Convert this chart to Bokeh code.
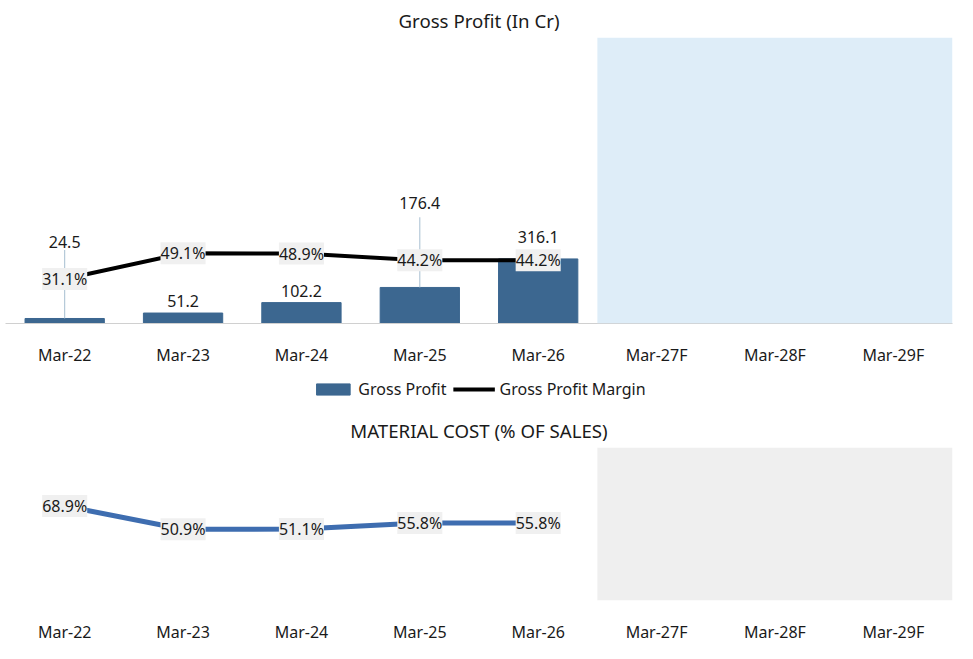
from bokeh.plotting import figure
from bokeh.models import (ColumnDataSource, LabelSet, Range1d, BoxAnnotation,
                          Legend, LegendItem, Segment)
from bokeh.core.properties import value
from bokeh.layouts import column
from bokeh.embed import file_html
from bokeh.resources import INLINE

years = ["Mar-22", "Mar-23", "Mar-24", "Mar-25", "Mar-26", "Mar-27F", "Mar-28F", "Mar-29F"]
known = ["Mar-22", "Mar-23", "Mar-24", "Mar-25", "Mar-26"]
gross_profit = [24.5, 51.2, 102.2, 176.4, 316.1]
gp_margin = [31.1, 49.1, 48.9, 44.2, 44.2]
material_cost = [68.9, 50.9, 51.1, 55.8, 55.8]

FONT = "Noto Sans"
BAR = "#3c6790"
INK = "#1a1a1a"

src = ColumnDataSource(dict(
    x=known, gp=gross_profit, m=gp_margin,
    gp_txt=[f"{v:.1f}" for v in gross_profit],
    m_txt=[f"{v:.1f}%" for v in gp_margin],
    off=[70, 6, 6, 78, 16],
))

p = figure(x_range=years, y_range=Range1d(0, 1400), width=957, height=368,
           output_backend="svg", toolbar_location=None, title="Gross Profit (In Cr)")
p.title.align = "center"
p.title.text_font = FONT
p.title.text_font_size = "14pt"
p.title.text_font_style = "normal"
p.title.text_color = INK
p.extra_y_ranges = {"m": Range1d(0, 200)}
p.yaxis.visible = False
p.xgrid.visible = False
p.ygrid.visible = False
p.outline_line_color = None
p.xaxis.axis_line_color = "#d0d0d0"
p.xaxis.major_tick_line_color = None
p.xaxis.major_label_text_font = FONT
p.xaxis.major_label_text_font_size = "12pt"
p.xaxis.major_label_text_color = INK
p.xaxis.major_label_standoff = 14

p.vbar(x="x", top="gp", width=0.67, color=BAR, source=src)
p.add_glyph(ColumnDataSource(dict(x=["Mar-22", "Mar-25"], y0=[24.5, 176.4], y1=[360, 520])),
            Segment(x0="x", y0="y0", x1="x", y1="y1", line_color="#a6bed0", line_width=1))
p.line("x", "m", source=src, y_range_name="m", line_color="black", line_width=4)

p.add_layout(LabelSet(x="x", y="gp", text="gp_txt", source=src, y_offset="off",
                      text_align="center", text_baseline="bottom", text_font=value(FONT),
                      text_font_size="12pt", text_color=INK,
                      background_fill_color="white"))
p.add_layout(LabelSet(x="x", y="m", text="m_txt", source=src, y_range_name="m",
                      text_align="center", text_baseline="middle", text_font=value(FONT),
                      text_font_size="12pt", text_color=INK,
                      background_fill_color="#f0f0f0"))
p.add_layout(BoxAnnotation(left=5, right=8, bottom=0, top=1400, fill_color="#d6e9f6",
                           fill_alpha=0.8, line_color=None))

# legend strip (glyphs kept outside the visible range)
lg = figure(x_range=years, y_range=Range1d(0, 1), width=957, height=42,
            output_backend="svg", toolbar_location=None, min_border=0)
lg.axis.visible = False
lg.grid.visible = False
lg.outline_line_color = None
hidden = ColumnDataSource(dict(x=["Mar-22", "Mar-23"], y=[-5, -5]))
r_bar = lg.vbar(x="x", top="y", bottom=-10, width=0.5, color=BAR, source=hidden)
r_line = lg.line("x", "y", source=hidden, line_color="black", line_width=4)
lg.add_layout(Legend(items=[LegendItem(label="Gross Profit", renderers=[r_bar]),
                            LegendItem(label="Gross Profit Margin", renderers=[r_line])],
                     orientation="horizontal", location="center", border_line_color=None,
                     background_fill_alpha=0, label_text_font=FONT, label_text_color=INK,
                     label_text_font_size="12pt", spacing=6, glyph_width=42,
                     glyph_height=14))

src2 = ColumnDataSource(dict(x=known, v=material_cost, t=[f"{v:.1f}%" for v in material_cost]))
q = figure(x_range=years, y_range=Range1d(-4, 114), width=957, height=235,
           output_backend="svg", toolbar_location=None, title="MATERIAL COST (% OF SALES)")
q.title.align = "center"
q.title.text_font = FONT
q.title.text_font_size = "14pt"
q.title.text_font_style = "normal"
q.title.text_color = INK
q.yaxis.visible = False
q.xgrid.visible = False
q.ygrid.visible = False
q.outline_line_color = None
q.xaxis.axis_line_color = None
q.xaxis.major_tick_line_color = None
q.xaxis.major_label_text_font = FONT
q.xaxis.major_label_text_font_size = "12pt"
q.xaxis.major_label_text_color = INK
q.xaxis.major_label_standoff = 14
q.line("x", "v", source=src2, line_color="#3e6db0", line_width=5)
q.add_layout(LabelSet(x="x", y="v", text="t", source=src2, text_align="center",
                      text_baseline="middle", text_font=value(FONT), text_font_size="12pt",
                      text_color=INK, background_fill_color="#f0f0f0"))
q.add_layout(BoxAnnotation(left=5, right=8, bottom=-4, top=114, fill_color="#e4e4e4",
                           fill_alpha=0.6, line_color=None))

layout = column(p, lg, q, spacing=0)
open("out.html", "w").write(file_html(layout, INLINE))
